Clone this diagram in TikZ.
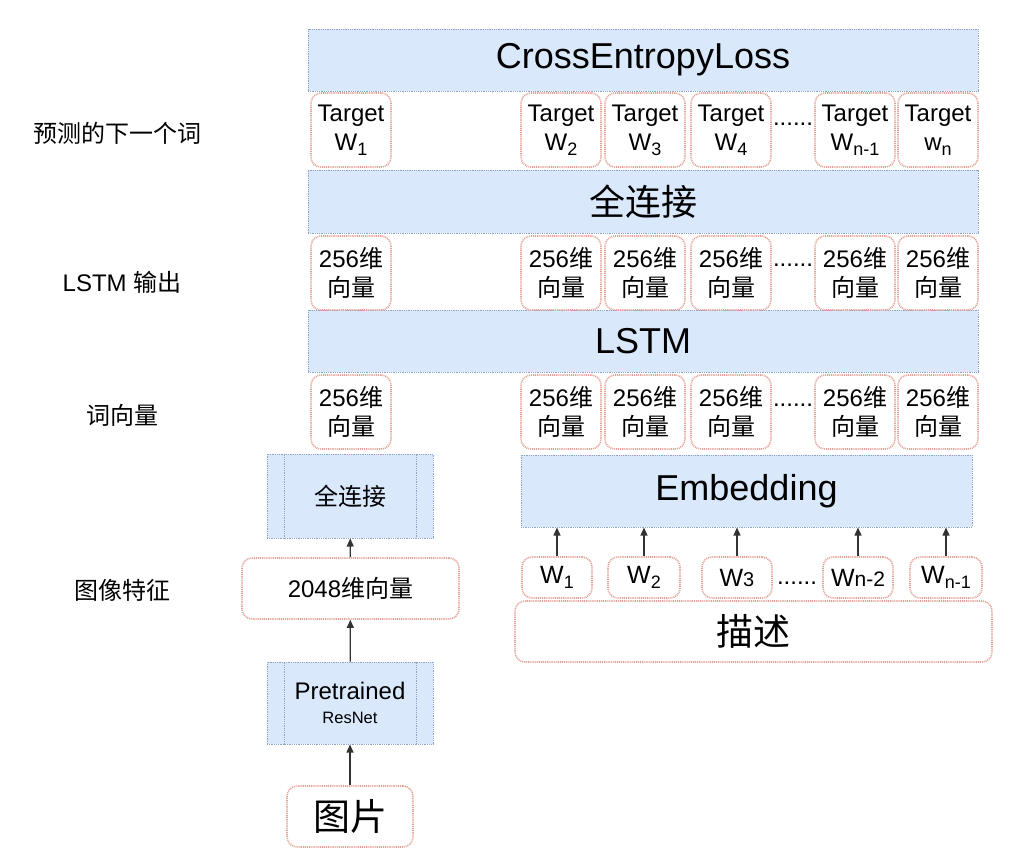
\documentclass[tikz,border=0pt]{standalone}
\usepackage{fontspec}
\setmainfont{Liberation Sans}
\newfontfamily\cjk{Noto Sans CJK SC}
\usetikzlibrary{arrows.meta}
\definecolor{hellblau}{HTML}{DAE8FC}
\definecolor{blaurand}{HTML}{8EA4C6}
\definecolor{rotrand}{HTML}{E2A296}
\definecolor{dunkel}{HTML}{333333}
\newcommand{\zh}[1]{{\cjk #1}}
\newcommand{\tief}[1]{\raisebox{-0.22em}{\fontsize{18}{20}\selectfont #1}}

\begin{document}
\begin{tikzpicture}[x=1pt,y=-1pt,
  balken/.style={draw=blaurand,fill=hellblau,line width=1pt,dash pattern=on 1pt off 0.8pt,inner sep=0pt,font=\fontsize{36}{40}\selectfont},
  kasten/.style={draw=rotrand,rounded corners=10pt,line width=1.6pt,dash pattern=on 1pt off 0.9pt,inner sep=0pt,align=center,minimum width=80pt,minimum height=74pt,font=\fontsize{24}{29}\selectfont},
  wort/.style={kasten,minimum width=70pt,minimum height=41pt,font=\fontsize{25}{28}\selectfont},
  etikett/.style={font=\fontsize{24}{28}\selectfont},
  punkte/.style={anchor=base,inner sep=0pt,font=\fontsize{24}{28}\selectfont},
  pfeil/.style={dunkel,line width=1.2pt,-{Triangle[length=8pt,width=7pt]}}]
  \useasboundingbox (0,0) rectangle (1030,863);
  \node[balken,minimum width=670pt,minimum height=62pt] (loss) at (643,60) {CrossEntropyLoss};
  \node[balken,minimum width=670pt,minimum height=63pt] (fc) at (643,201.5) {\zh{全连接}};
  \node[balken,minimum width=670pt,minimum height=62pt] (lstm) at (643,341) {LSTM};
  \node[balken,minimum width=451pt,minimum height=72pt] (emb) at (746.5,491) {Embedding};
  \foreach \n/\x/\t in {1/351/W\tief{1},2/561/W\tief{2},3/645/W\tief{3},4/731/W\tief{4},5/855/W\tief{n-1},6/938/w\tief{n}} {
    \node[kasten] (ziel\n) at (\x,130) {Target\\\t};
    \node[kasten] (aus\n) at (\x,273) {256\zh{维}\\\zh{向量}};
    \node[kasten] (ein\n) at (\x,412) {256\zh{维}\\\zh{向量}};
  }
  \node[punkte] (p1) at (793,125) {......};
  \node[punkte] (p2) at (793,266) {......};
  \node[punkte] (p3) at (793,406) {......};
  \node[wort] (w1) at (557,577.5) {W\tief{1}};
  \node[wort,minimum width=72pt] (w2) at (644,577.5) {W\tief{2}};
  \node[wort] (w3) at (737,577.5) {W{\fontsize{20}{22}\selectfont 3}};
  \node[wort] (w4) at (858,577.5) {W{\fontsize{21}{22}\selectfont n-2}};
  \node[wort,minimum width=72pt] (w5) at (946,577.5) {W\tief{n-1}};
  \node[punkte] (p4) at (797,584) {......};
  \node[kasten,minimum width=477pt,minimum height=61pt,font=\fontsize{37}{40}\selectfont] (satz) at (753.5,631.5) {\zh{描述}};
  \foreach \n in {1,...,5}
    \draw[pfeil] (w\n.north) -- (w\n.north |- emb.south);
  \node[balken,minimum width=166pt,minimum height=84pt,font=\fontsize{24}{28}\selectfont] (klfc) at (350,496) {\zh{全连接}};
  \draw[blaurand,line width=1pt,dash pattern=on 1pt off 0.8pt] ([xshift=18pt]klfc.north west) -- ([xshift=18pt]klfc.south west);
  \draw[blaurand,line width=1pt,dash pattern=on 1pt off 0.8pt] ([xshift=-17pt]klfc.north east) -- ([xshift=-17pt]klfc.south east);
  \node[kasten,minimum width=217pt,minimum height=61pt,font=\fontsize{24}{28}\selectfont] (vec) at (350.5,588.5) {2048\zh{维向量}};
  \node[balken,minimum width=166pt,minimum height=82pt,align=center,font=\fontsize{24}{28}\selectfont] (res) at (350,703) {Pretrained\\[-4pt]{\fontsize{16.5}{20}\selectfont ResNet}};
  \draw[blaurand,line width=1pt,dash pattern=on 1pt off 0.8pt] ([xshift=18pt]res.north west) -- ([xshift=18pt]res.south west);
  \draw[blaurand,line width=1pt,dash pattern=on 1pt off 0.8pt] ([xshift=-17pt]res.north east) -- ([xshift=-17pt]res.south east);
  \node[kasten,minimum width=126pt,minimum height=61pt,font=\fontsize{37}{40}\selectfont] (bild) at (350,816.5) {\zh{图片}};
  \draw[pfeil] (vec) -- (klfc);
  \draw[pfeil] (res) -- (vec);
  \draw[pfeil] (bild) -- (res);
  \node[etikett] (l1) at (117,133) {\zh{预测的下一个词}};
  \node[etikett] (l2) at (122,282) {LSTM \zh{输出}};
  \node[etikett] (l3) at (122,415) {\zh{词向量}};
  \node[etikett] (l4) at (122,590) {\zh{图像特征}};
\end{tikzpicture}
\end{document}
